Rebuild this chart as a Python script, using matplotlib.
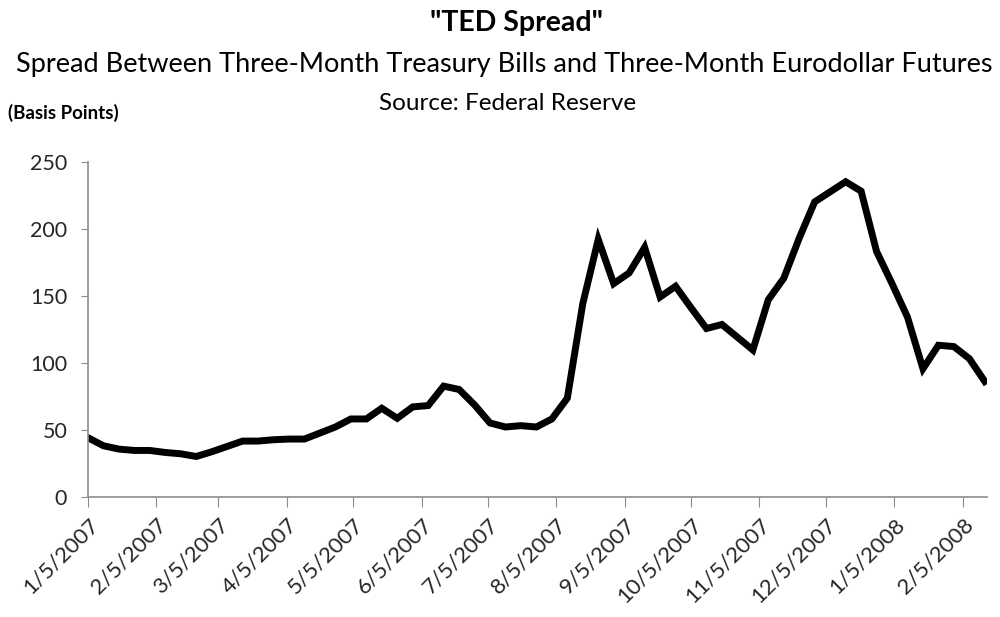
import numpy as np
import pandas as pd
import matplotlib
matplotlib.use('Agg')
import matplotlib.pyplot as plt

plt.rcParams['font.family'] = ['Lato', 'DejaVu Sans']

# 주간 TED 스프레드 (금요일 기준, basis points)
weeks = pd.date_range('2007-01-05', '2008-02-15', freq='W-FRI')
ted = [44, 38, 35.5, 34.5, 34.5, 33, 32, 30, 33.5, 37.5,
       41.5, 41.5, 42.5, 43, 43, 47.5, 52, 58, 58, 66,
       58.5, 67, 68, 82.5, 80, 68.5, 55, 52, 53, 52,
       58, 73.5, 144, 192, 159, 167, 186, 149, 157, 141,
       125.5, 128.5, 119, 109.5, 147, 163, 193, 220, 227.5, 235,
       228, 183, 159, 134, 95.5, 113, 112, 103, 86]

# 매월 5일 눈금
tick_dates = pd.date_range('2007-01-01', periods=14, freq='MS') + pd.Timedelta(days=4)
tick_labels = ['1/5/2007', '2/5/2007', '3/5/2007', '4/5/2007', '5/5/2007',
               '6/5/2007', '7/5/2007', '8/5/2007', '9/5/2007', '10/5/2007',
               '11/5/2007', '12/5/2007', '1/5/2008', '2/5/2008']
y_ticks = [0, 50, 100, 150, 200, 250]

fig = plt.figure(figsize=(10, 6.17), dpi=100)
ax = fig.add_axes([0.088, 0.195, 0.899, 0.543])

ax.plot(weeks, ted, color='black', linewidth=5, solid_joinstyle='miter')

ax.set_xlim(weeks[0], weeks[-1] + pd.Timedelta(days=1))
ax.set_ylim(0, 250)
ax.set_yticks(y_ticks)
ax.set_xticks(tick_dates)
ax.set_xticklabels(tick_labels, rotation=45, ha='right', va='top',
                   rotation_mode='anchor', fontsize=16, color='#262626')
ax.tick_params(axis='y', labelsize=15.5, labelcolor='#262626', length=5,
               color='#8c8c8c', pad=10)
ax.tick_params(axis='x', length=7, color='#8c8c8c', pad=6)

for s in ['top', 'right']:
    ax.spines[s].set_visible(False)
for s in ['left', 'bottom']:
    ax.spines[s].set_color('#8c8c8c')
    ax.spines[s].set_linewidth(1.2)

fig.text(0.517, 0.963, '"TED Spread"', ha='center', va='center',
         fontsize=20.5, fontweight='bold')
fig.text(0.504, 0.895, 'Spread Between Three-Month Treasury Bills and Three-Month Eurodollar Futures',
         ha='center', va='center', fontsize=19.5)
fig.text(0.508, 0.832, 'Source: Federal Reserve', ha='center', va='center', fontsize=17.5)
fig.text(0.008, 0.817, '(Basis Points)', ha='left', va='center', fontsize=13.5,
         fontweight='bold')

fig.savefig('out.png', dpi=100)
